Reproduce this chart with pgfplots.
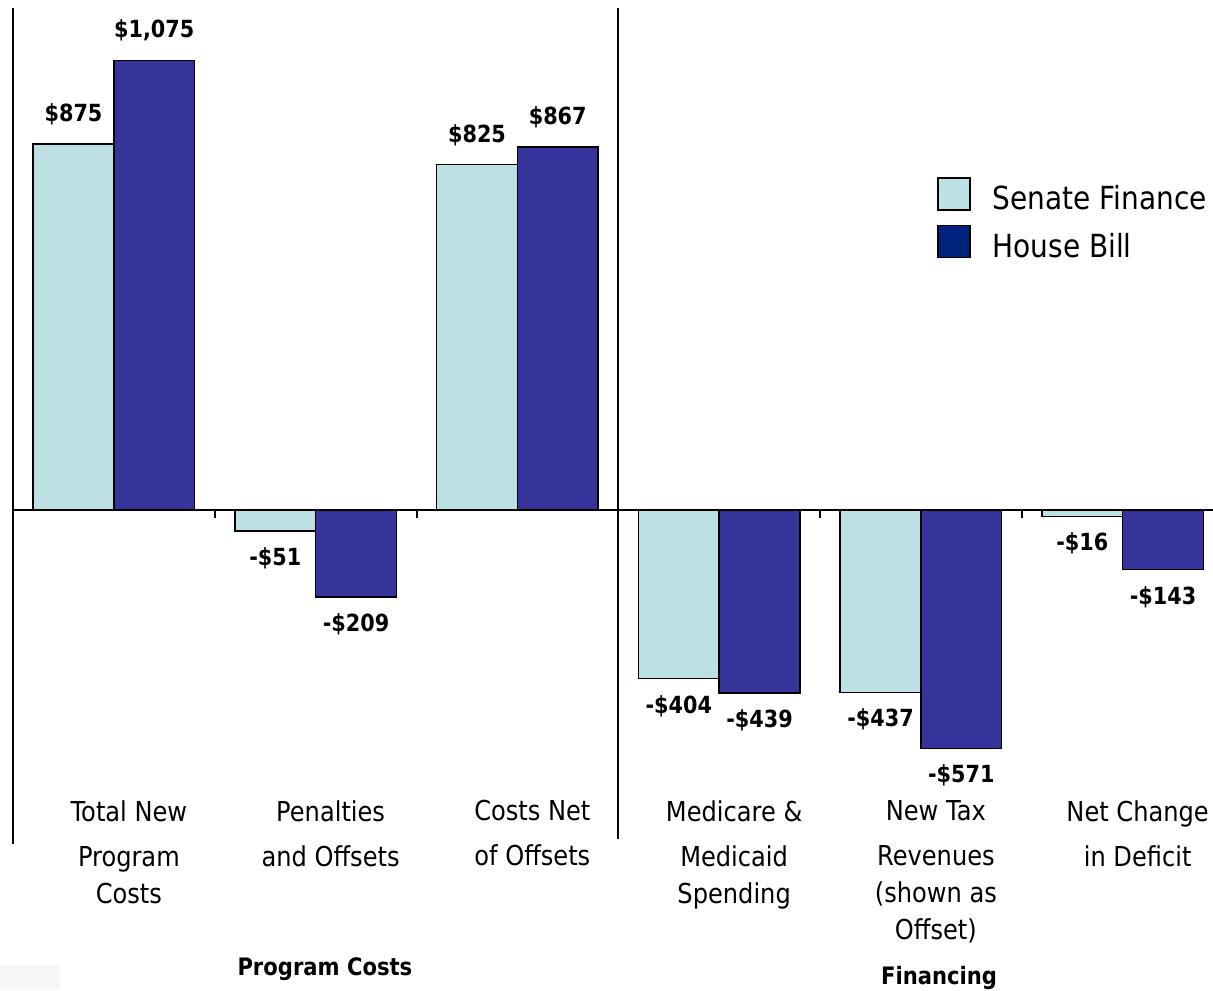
\documentclass[border=0pt]{standalone}
\usepackage{fontspec}
\setmainfont{DejaVu Sans}[FakeStretch=0.88]
\usepackage{pgfplots}
\pgfplotsset{compat=1.18}

\definecolor{senate}{HTML}{BCE0E3}
\definecolor{house}{HTML}{36349A}
\definecolor{housekey}{HTML}{00247D}

\begin{document}
\begin{tikzpicture}
\path[use as bounding box] (0,0) rectangle (606.5pt,495pt);
\fill[black!3] (0,0) rectangle (30pt,12.5pt);
\begin{axis}[
    at={(6.5pt,73pt)}, anchor=south west,
    width=605.25pt, height=418pt, scale only axis,
    xmin=-0.5, xmax=5.5, ymin=-800, ymax=1200,
    axis x line*=bottom, axis y line*=left,
    x axis line style={draw=none},
    y axis line style={line width=1pt},
    ytick=\empty,
    xtick={0,...,5},
    major x tick style={draw=none},
    xticklabels={{Total New\\[4pt]Program\\Costs},
                 {Penalties\\[4pt]and Offsets},
                 {Costs Net\\[4pt]of Offsets},
                 {Medicare \&\\[4pt]Medicaid\\Spending},
                 {New Tax\\[4pt]Revenues\\(shown as\\Offset)},
                 {Net Change\\[4pt]in Deficit}},
    xticklabel style={align=center, inner sep=0pt, anchor=north,
        yshift=26.3pt, xshift=7.5pt, font=\fontsize{13.7}{18.5}\selectfont},
    ybar=0pt, bar width=0.4,
    point meta=explicit symbolic,
    nodes near coords={\pgfplotspointmeta},
    every node near coord/.append style={font=\bfseries\fontsize{11.8}{14}\selectfont,
        inner xsep=0pt, inner ysep=9.5pt, text height=0.75em, text depth=0pt},
    clip=false,
    legend style={at={(0.763,0.798)}, anchor=north west, draw=none, fill=none,
        inner sep=0pt, row sep=6pt, column sep=11pt,
        font=\fontsize{15.9}{18}\selectfont, nodes={inner sep=0pt}},
    legend cell align=left,
]
% Senate Finance
\addplot[fill=senate, draw=black, line width=0.7pt, bar shift=-0.2, forget plot,
    every node near coord/.append style={anchor=south, yshift=1.5pt}]
  coordinates {(0,875) [\$875] (2,825) [\$825]};
\addplot[fill=senate, draw=black, line width=0.7pt, bar shift=-0.2, forget plot,
    every node near coord/.append style={anchor=north}]
  coordinates {(1,-51) [-\$51] (3,-404) [-\$404] (4,-437) [-\$437] (5,-16) [-\$16]};
% House Bill
\addplot[fill=house, draw=black, line width=0.7pt, bar shift=0.2, forget plot,
    every node near coord/.append style={anchor=south, yshift=1.5pt}]
  coordinates {(0,1075) [\$1,075] (2,867) [\$867]};
\addplot[fill=house, draw=black, line width=0.7pt, bar shift=0.2, forget plot,
    every node near coord/.append style={anchor=north}]
  coordinates {(1,-209) [-\$209] (3,-439) [-\$439] (4,-571) [-\$571] (5,-143) [-\$143]};

\addlegendimage{legend image code/.code={\draw[fill=senate, draw=black, line width=0.8pt] (0pt,-5.5pt) rectangle (16pt,10.5pt);}}
\addlegendentry{Senate Finance}
\addlegendimage{legend image code/.code={\draw[fill=housekey, draw=black, line width=0.8pt] (0pt,-5.5pt) rectangle (16pt,10.5pt);}}
\addlegendentry{House Bill}

% zero line, group ticks and the divider
\draw[line width=1pt] (axis cs:-0.5,0) -- (axis cs:5.5,0);
\draw[line width=1pt] (axis cs:0.5,0) -- (axis cs:0.5,-21);
\draw[line width=1pt] (axis cs:1.5,0) -- (axis cs:1.5,-21);
\draw[line width=1pt] (axis cs:3.5,0) -- (axis cs:3.5,-21);
\draw[line width=1pt] (axis cs:4.5,0) -- (axis cs:4.5,-21);
\draw[line width=1pt] (axis cs:2.5,-787) -- (axis cs:2.5,1200);

\node[font=\bfseries\fontsize{12}{14}\selectfont] at (axis cs:1.046,-1100) {Program Costs};
\node[font=\bfseries\fontsize{12}{14}\selectfont] at (axis cs:4.09,-1119.6) {Financing};
\end{axis}
\end{tikzpicture}
\end{document}
